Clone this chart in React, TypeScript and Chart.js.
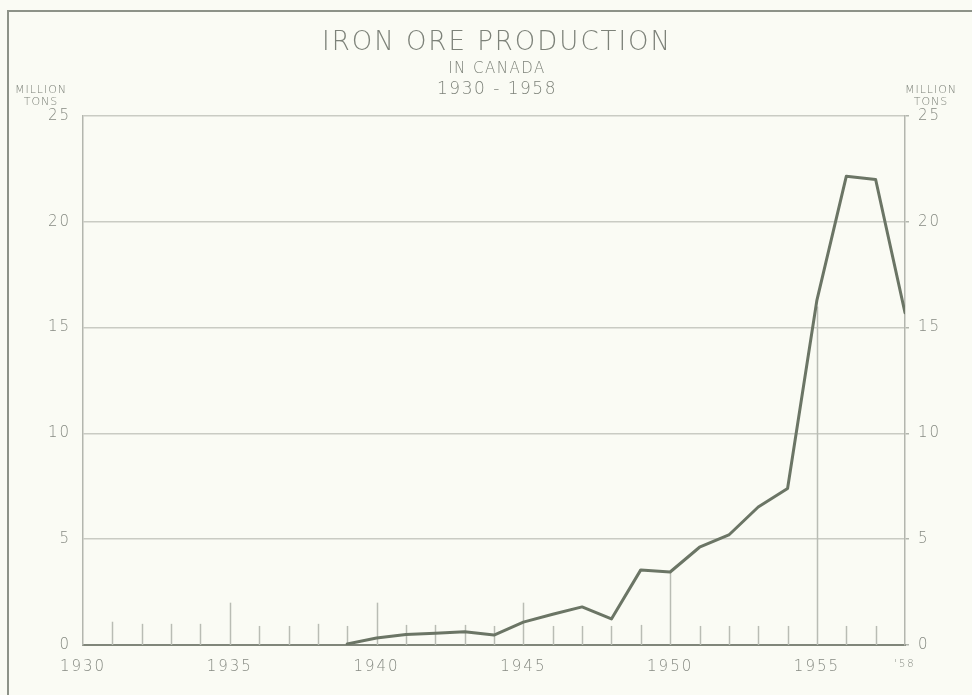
import React, { useEffect, useRef } from "react";
import { Chart, registerables } from "chart.js";

Chart.register(...registerables);

// ---- data ----
const years = [1939, 1940, 1941, 1942, 1943, 1944, 1945, 1946, 1947, 1948, 1949, 1950, 1951, 1952, 1953, 1954, 1955, 1956, 1957, 1958];
const production = [0.05, 0.33, 0.5, 0.55, 0.63, 0.47, 1.08, 1.45, 1.8, 1.23, 3.55, 3.45, 4.62, 5.2, 6.52, 7.4, 16.3, 22.15, 22.0, 15.7];

const yTickValues = [0, 5, 10, 15, 20, 25];
const xLabelYears = [1930, 1935, 1940, 1945, 1950, 1955, 1958];
const xLabelTexts = ["1930", "1935", "1940", "1945", "1950", "1955", "'58"];

const markYears = [1931, 1932, 1933, 1934, 1935, 1936, 1937, 1938, 1939, 1940, 1941, 1942, 1943, 1944, 1945, 1946, 1947, 1948, 1949, 1950, 1951, 1952, 1953, 1954, 1955, 1956, 1957];
const markHeights = [1.1, 1.0, 1.0, 1.0, 2.0, 0.9, 0.9, 1.0, 0.9, 2.0, 0.95, 0.95, 0.95, 0.9, 2.0, 0.9, 0.9, 0.9, 0.95, 3.45, 0.9, 0.9, 0.9, 0.9, 16.0, 0.9, 0.9];

const titleText = "IRON ORE PRODUCTION";
const subtitleLines = ["IN CANADA", "1930 - 1958"];
const unitLines = ["MILLION", "TONS"];

const FONT = "'DejaVu Sans', 'Liberation Sans', sans-serif";
const TEXT = "#868a82";
const BG = "#fafbf4";

const decorPlugin = {
  id: "decor",
  beforeDraw(chart: any) {
    const ctx = chart.ctx;
    ctx.save();
    ctx.fillStyle = BG;
    ctx.fillRect(0, 0, chart.width, chart.height);
    ctx.strokeStyle = "#8d9288";
    ctx.lineWidth = 2;
    ctx.beginPath();
    ctx.moveTo(8, chart.height);
    ctx.lineTo(8, 11);
    ctx.lineTo(chart.width, 11);
    ctx.stroke();
    ctx.restore();
    (ctx as any).letterSpacing = "2px";
  },
  beforeDatasetsDraw(chart: any) {
    const ctx = chart.ctx;
    const xs = chart.scales.x;
    const ys = chart.scales.y;
    ctx.save();
    ctx.strokeStyle = "#b9bcb4";
    ctx.lineWidth = 1.5;
    markYears.forEach((yr, i) => {
      const px = Math.round(xs.getPixelForValue(yr)) + 0.5;
      ctx.beginPath();
      ctx.moveTo(px, ys.getPixelForValue(0));
      ctx.lineTo(px, ys.getPixelForValue(markHeights[i]));
      ctx.stroke();
    });
    ctx.restore();
  },
  afterDraw(chart: any) {
    const ctx = chart.ctx;
    const area = chart.chartArea;
    const cx = (area.left + area.right) / 2 + 3;
    ctx.save();
    ctx.fillStyle = "#7d8279";
    ctx.textAlign = "center";
    ctx.textBaseline = "alphabetic";
    (ctx as any).letterSpacing = "2px";
    ctx.font = `200 26px ${FONT}`;
    ctx.fillText(titleText, cx, 50);
    (ctx as any).letterSpacing = "1.5px";
    ctx.font = `200 15px ${FONT}`;
    ctx.fillText(subtitleLines[0], cx, 73);
    ctx.font = `200 17px ${FONT}`;
    ctx.fillText(subtitleLines[1], cx, 94);
    (ctx as any).letterSpacing = "1px";
    ctx.font = `200 11px ${FONT}`;
    ctx.fillText(unitLines[0], 41, 93);
    ctx.fillText(unitLines[1], 41, 105);
    ctx.fillText(unitLines[0], 931, 93);
    ctx.fillText(unitLines[1], 931, 105);
    ctx.restore();
    (ctx as any).letterSpacing = "0px";
  },
};

export default function App() {
  const ref = useRef<HTMLCanvasElement | null>(null);

  useEffect(() => {
    if (!ref.current) return;
    const chart = new Chart(ref.current, {
      type: "line",
      data: {
        datasets: [
          {
            label: "Iron ore production",
            data: years.map((y, i) => ({ x: y, y: production[i] })),
            borderColor: "#6b7565",
            borderWidth: 3,
            pointRadius: 0,
            tension: 0,
            borderJoinStyle: "round",
            borderCapStyle: "round",
          } as any,
        ],
      },
      options: {
        animation: false,
        responsive: false,
        devicePixelRatio: 1,
        layout: { padding: { top: 116, left: 0, right: 0, bottom: 0 } },
        plugins: {
          legend: { display: false },
          tooltip: { enabled: false },
          title: { display: false },
        },
        scales: {
          x: {
            type: "linear",
            min: 1930,
            max: 1958,
            afterBuildTicks: (s: any) => {
              s.ticks = xLabelYears.map((v) => ({ value: v }));
            },
            afterFit: (s: any) => {
              s.height = 50;
            },
            grid: { display: false },
            border: { display: true, color: "#80867a", width: 2 },
            ticks: {
              autoSkip: false,
              maxRotation: 0,
              padding: 5,
              color: TEXT,
              font: (c: any) =>
                c.tick && c.tick.value === 1958
                  ? { family: FONT, size: 10, weight: "200" }
                  : { family: FONT, size: 15, weight: "200" },
              callback: (v: any) => {
                const i = xLabelYears.indexOf(Number(v));
                return i >= 0 ? xLabelTexts[i] : "";
              },
            },
          },
          y: {
            type: "linear",
            position: "left",
            min: 0,
            max: 25,
            afterBuildTicks: (s: any) => {
              s.ticks = yTickValues.map((v) => ({ value: v }));
            },
            afterFit: (s: any) => {
              s.width = 83;
            },
            grid: {
              drawTicks: false,
              color: (c: any) => (c.tick && c.tick.value === 0 ? "rgba(0,0,0,0)" : "#c9cbc3"),
              lineWidth: 1.5,
            },
            border: { display: true, color: "#b3b6ae", width: 1.5 },
            ticks: {
              padding: 12,
              color: TEXT,
              font: { family: FONT, size: 15, weight: "200" },
              callback: (v: any) => String(v),
            },
          },
          y2: {
            type: "linear",
            position: "right",
            min: 0,
            max: 25,
            afterBuildTicks: (s: any) => {
              s.ticks = yTickValues.map((v) => ({ value: v }));
            },
            afterFit: (s: any) => {
              s.width = 67;
            },
            grid: {
              drawOnChartArea: false,
              drawTicks: true,
              tickLength: 4,
              color: "#b3b6ae",
              lineWidth: 1.5,
            },
            border: { display: true, color: "#b3b6ae", width: 1.5 },
            ticks: {
              padding: 9,
              color: TEXT,
              font: { family: FONT, size: 15, weight: "200" },
              callback: (v: any) => String(v),
            },
          },
        },
      } as any,
      plugins: [decorPlugin],
    });
    return () => chart.destroy();
  }, []);

  return (
    <div style={{ position: "absolute", left: 0, top: 0, width: 972, height: 695, background: BG }}>
      <canvas ref={ref} width={972} height={695} style={{ display: "block" }} />
    </div>
  );
}
